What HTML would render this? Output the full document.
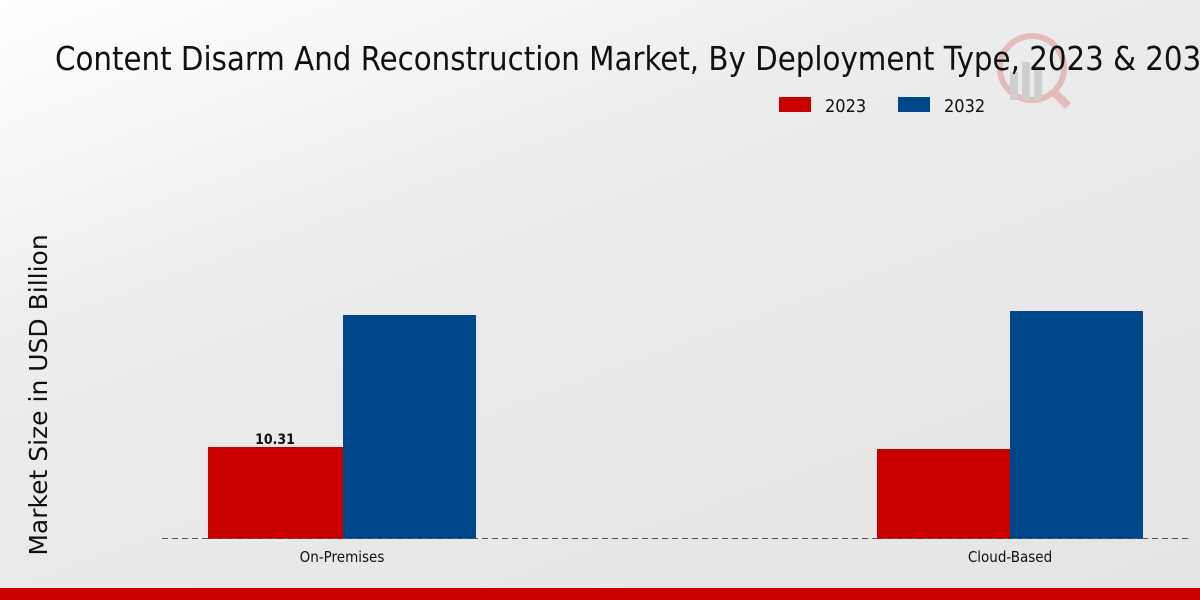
<!DOCTYPE html>
<html><head><style>
html,body{margin:0;padding:0;width:1200px;height:600px;overflow:hidden}
body{background:linear-gradient(160deg,#ffffff 0%,#ececec 35%,#e4e4e4 100%)}
svg text{font-family:"DejaVu Sans Condensed","DejaVu Sans","Liberation Sans",sans-serif;font-stretch:condensed}
</style></head><body>
<svg width="1200" height="600" xmlns="http://www.w3.org/2000/svg">
<g opacity="0.2">
<circle cx="1032" cy="68" r="32" fill="none" stroke="#c00" stroke-width="6"/>
<line x1="1052" y1="90" x2="1068" y2="106" stroke="#c00" stroke-width="8"/>
<rect x="1010" y="72" width="8" height="28" fill="#666"/>
<rect x="1022" y="62" width="8" height="38" fill="#666"/>
<rect x="1034" y="66" width="8" height="34" fill="#666"/>
</g>
<text x="55" y="70" font-size="32.6" fill="#111">Content Disarm And Reconstruction Market, By Deployment Type, 2023 &amp; 2032</text>
<rect x="779" y="97" width="32" height="15" fill="#c80000"/>
<text x="825" y="112" font-size="18" fill="#111">2023</text>
<rect x="898" y="97" width="32" height="15" fill="#00468b"/>
<text x="944" y="112" font-size="18" fill="#111">2032</text>
<text transform="translate(48,395) rotate(-90)" text-anchor="middle" font-size="25" fill="#111" style="font-stretch:normal;font-family:'DejaVu Sans',sans-serif" x="0" dy="-1">Market Size in USD Billion</text>
<rect x="208" y="447" width="135" height="92" fill="#c80000"/>
<rect x="343" y="315" width="133" height="224" fill="#00468b"/>
<rect x="877" y="449" width="133" height="90" fill="#c80000"/>
<rect x="1010" y="311" width="133" height="228" fill="#00468b"/>
<text x="275" y="444" text-anchor="middle" font-size="14" font-weight="bold" fill="#111">10.31</text>
<line x1="162" y1="538.5" x2="1192" y2="538.5" stroke="#555" stroke-dasharray="6,4" stroke-width="1"/>
<text x="342" y="562" text-anchor="middle" font-size="15" fill="#111">On-Premises</text>
<text x="1010" y="562" text-anchor="middle" font-size="15" fill="#111">Cloud-Based</text>
<rect x="0" y="588" width="1200" height="12" fill="#c80000"/>
</svg>
</body></html>
